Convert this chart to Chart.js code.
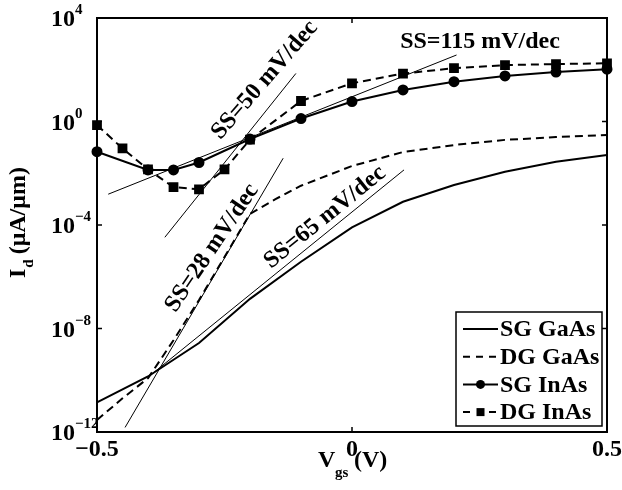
<!DOCTYPE html>
<html>
<head>
<meta charset="utf-8">
<script src="https://cdn.jsdelivr.net/npm/chart.js@4.4.0/dist/chart.umd.min.js"></script>
<style>
  html, body { margin: 0; padding: 0; background: #fff; }
  #wrap { width: 622px; height: 490px; }
</style>
</head>
<body>
<div id="wrap"><canvas id="ivChart" width="622" height="490"></canvas></div>
<script>
// Vgs (V) and Id (uA/um) for each device
const vgsSgGaAs = [-0.5, -0.4, -0.3, -0.2, -0.1, 0, 0.1, 0.2, 0.3, 0.4, 0.5];
const idSgGaAs = [1.4e-11, 1.4e-10, 2.75e-9, 1.4e-7, 3.8e-6, 8.1e-5, 7.9e-4, 3.5e-3, 1.15e-2, 2.8e-2, 5.1e-2];

const vgsDgGaAs = [-0.5, -0.45, -0.4, -0.35, -0.3, -0.25, -0.2, -0.15, -0.1, 0, 0.1, 0.2, 0.3, 0.4, 0.5];
const idDgGaAs = [2.9e-12, 2.0e-11, 1.2e-10, 3.5e-9, 1.26e-7, 5.8e-6, 2.7e-4, 1.0e-3, 3.3e-3, 1.9e-2, 6.6e-2, 0.123, 0.195, 0.25, 0.30];

const vgsSgInAs = [-0.5, -0.4, -0.35, -0.3, -0.2, -0.1, 0, 0.1, 0.2, 0.3, 0.4, 0.5];
const idSgInAs = [6.8e-2, 1.35e-2, 1.35e-2, 2.6e-2, 0.21, 1.3, 5.9, 16.6, 34.7, 57.5, 81, 105];

const vgsDgInAs = [-0.5, -0.45, -0.4, -0.35, -0.3, -0.25, -0.2, -0.1, 0, 0.1, 0.2, 0.3, 0.4, 0.5];
const idDgInAs = [0.73, 9.1e-2, 1.4e-2, 2.9e-3, 2.4e-3, 1.4e-2, 0.2, 6.2, 30, 71, 115, 151, 166, 178];

// straight fits for the subthreshold slopes
const ss50Vgs = [-0.367, -0.110];
const ss50Id = [3.35e-5, 72];
const ss115Vgs = [-0.478, 0.205];
const ss115Id = [1.55e-3, 372];
const ss28Vgs = [-0.445, -0.135];
const ss28Id = [1.5e-12, 3.8e-2];
const ss65Vgs = [-0.39, 0.102];
const ss65Id = [1.9e-10, 1.35e-2];

const seriesNames = ['SG GaAs', 'DG GaAs', 'SG InAs', 'DG InAs'];
const xTicks = [-0.5, 0, 0.5];
const xTickLabels = ['\u22120.5', '0', '0.5'];
const yTickExps = [4, 0, -4, -8, -12];

const FONT = '"Liberation Serif", "DejaVu Serif", serif';

function toPoints(xs, ys) {
  return xs.map((x, i) => ({ x: x, y: ys[i] }));
}

function fitLine(xs, ys) {
  return {
    data: toPoints(xs, ys),
    borderColor: '#000',
    borderWidth: 1,
    pointRadius: 0,
    fill: false
  };
}

// slope labels, placed in data coordinates
const notes = [
  { text: 'SS=50 mV/dec', x: -0.171, y: 40, angle: -49 },
  { text: 'SS=115 mV/dec', x: 0.251, y: 1170, angle: 0 },
  { text: 'SS=28 mV/dec', x: -0.2745, y: 1.3e-5, angle: -56 },
  { text: 'SS=65 mV/dec', x: -0.053, y: 2.0e-4, angle: -39 }
];

function drawSample(ctx, ds, x0, x1, y) {
  ctx.save();
  ctx.strokeStyle = '#000';
  ctx.fillStyle = '#000';
  ctx.lineWidth = 2;
  ctx.setLineDash(ds.borderDash && ds.borderDash.length ? [7, 6] : []);
  ctx.beginPath();
  ctx.moveTo(x0, y);
  ctx.lineTo(x1, y);
  ctx.stroke();
  ctx.setLineDash([]);
  const cx = (x0 + x1) / 2;
  if (ds.pointStyle === 'circle') {
    ctx.beginPath();
    ctx.arc(cx, y, 4.5, 0, Math.PI * 2);
    ctx.fill();
  } else if (ds.pointStyle === 'rect') {
    ctx.fillStyle = '#fff';
    ctx.fillRect(cx - 6, y - 4, 12, 8);
    ctx.fillStyle = '#000';
    ctx.fillRect(cx - 4, y - 4, 8, 8);
  }
  ctx.restore();
}

const framePlugin = {
  id: 'frame',
  afterDatasetsDraw(chart) {
    const ctx = chart.ctx;
    const a = chart.chartArea;
    const xs = chart.scales.x;
    const ys = chart.scales.y;
    ctx.save();
    ctx.fillStyle = '#000';

    // slope labels
    ctx.font = 'bold 24px ' + FONT;
    ctx.textAlign = 'center';
    ctx.textBaseline = 'middle';
    notes.forEach(n => {
      ctx.save();
      ctx.translate(xs.getPixelForValue(n.x), ys.getPixelForValue(n.y));
      ctx.rotate(n.angle * Math.PI / 180);
      ctx.fillText(n.text, 0, 0);
      ctx.restore();
    });

    // legend box in the lower right corner
    const shown = chart.data.datasets.filter(d => d.label);
    const bw = 146, bh = 114;
    const bx = a.right - 5 - bw, by = a.bottom - 6 - bh;
    ctx.fillStyle = '#fff';
    ctx.fillRect(bx, by, bw, bh);
    ctx.strokeStyle = '#000';
    ctx.lineWidth = 1.5;
    ctx.strokeRect(bx, by, bw, bh);
    ctx.fillStyle = '#000';
    ctx.textAlign = 'left';
    shown.forEach((ds, i) => {
      const ry = by + 17 + i * 27.7;
      drawSample(ctx, ds, bx + 7, bx + 42, ry);
      ctx.fillText(ds.label, bx + 44, ry + 1);
    });

    // axes box with inward ticks
    ctx.lineWidth = 2;
    ctx.strokeRect(a.left, a.top, a.right - a.left, a.bottom - a.top);
    ctx.lineWidth = 1.5;
    ctx.beginPath();
    xTicks.forEach(v => {
      const px = xs.getPixelForValue(v);
      ctx.moveTo(px, a.bottom); ctx.lineTo(px, a.bottom - 5);
      ctx.moveTo(px, a.top); ctx.lineTo(px, a.top + 5);
    });
    yTickExps.forEach(e => {
      const py = ys.getPixelForValue(Math.pow(10, e));
      ctx.moveTo(a.left, py); ctx.lineTo(a.left + 5, py);
      ctx.moveTo(a.right, py); ctx.lineTo(a.right - 5, py);
    });
    ctx.stroke();

    // x tick labels
    ctx.font = 'bold 24px ' + FONT;
    ctx.textAlign = 'center';
    ctx.textBaseline = 'middle';
    xTicks.forEach((v, i) => {
      ctx.fillText(xTickLabels[i], xs.getPixelForValue(v), a.bottom + 18);
    });

    // y tick labels as powers of ten
    yTickExps.forEach(e => {
      const py = ys.getPixelForValue(Math.pow(10, e));
      ctx.font = 'bold 24px ' + FONT;
      ctx.textAlign = 'right';
      ctx.textBaseline = 'middle';
      ctx.fillText('10', a.left - 22, py + 2);
      ctx.font = 'bold 15px ' + FONT;
      ctx.textAlign = 'left';
      ctx.textBaseline = 'alphabetic';
      ctx.fillText(e < 0 ? '\u2212' + (-e) : String(e), a.left - 22, py - 4);
    });

    // x axis title: V_gs (V)
    ctx.textAlign = 'left';
    ctx.textBaseline = 'alphabetic';
    ctx.font = 'bold 24px ' + FONT;
    ctx.fillText('V', 318, 467);
    ctx.font = 'bold 15px ' + FONT;
    ctx.fillText('gs', 335, 477);
    ctx.font = 'bold 24px ' + FONT;
    ctx.fillText('(V)', 354, 467);

    // y axis title: I_d (uA/um)
    ctx.save();
    ctx.translate(25, 278);
    ctx.rotate(-Math.PI / 2);
    ctx.font = 'bold 24px ' + FONT;
    ctx.fillText('I', 0, 0);
    const wI = ctx.measureText('I').width;
    ctx.font = 'bold 15px ' + FONT;
    ctx.fillText('d', wI + 1, 8);
    const wd = ctx.measureText('d').width;
    ctx.font = 'bold 24px ' + FONT;
    ctx.fillText('(\u03bcA/\u03bcm)', wI + wd + 6, 0);
    ctx.restore();

    ctx.restore();
  }
};

new Chart(document.getElementById('ivChart'), {
  type: 'line',
  data: {
    datasets: [
      fitLine(ss50Vgs, ss50Id),
      fitLine(ss115Vgs, ss115Id),
      fitLine(ss28Vgs, ss28Id),
      fitLine(ss65Vgs, ss65Id),
      {
        label: seriesNames[0],
        data: toPoints(vgsSgGaAs, idSgGaAs),
        borderColor: '#000',
        borderWidth: 2,
        pointRadius: 0,
        clip: false
      },
      {
        label: seriesNames[1],
        data: toPoints(vgsDgGaAs, idDgGaAs),
        borderColor: '#000',
        borderWidth: 2,
        borderDash: [8, 5],
        pointRadius: 0,
        clip: false
      },
      {
        label: seriesNames[2],
        data: toPoints(vgsSgInAs, idSgInAs),
        borderColor: '#000',
        backgroundColor: '#000',
        borderWidth: 2,
        pointStyle: 'circle',
        pointRadius: 4.5,
        clip: false
      },
      {
        label: seriesNames[3],
        data: toPoints(vgsDgInAs, idDgInAs),
        borderColor: '#000',
        backgroundColor: '#000',
        borderWidth: 2,
        borderDash: [8, 5],
        pointStyle: 'rect',
        pointRadius: 5.5,
        clip: false
      }
    ]
  },
  options: {
    responsive: false,
    animation: false,
    layout: { padding: { left: 97, right: 15, top: 18, bottom: 58 } },
    elements: { line: { tension: 0, fill: false } },
    scales: {
      x: { type: 'linear', min: -0.5, max: 0.5, display: false },
      y: { type: 'logarithmic', min: 1e-12, max: 1e4, display: false }
    },
    plugins: {
      legend: { display: false },
      tooltip: { enabled: false }
    }
  },
  plugins: [framePlugin]
});
</script>
</body>
</html>
